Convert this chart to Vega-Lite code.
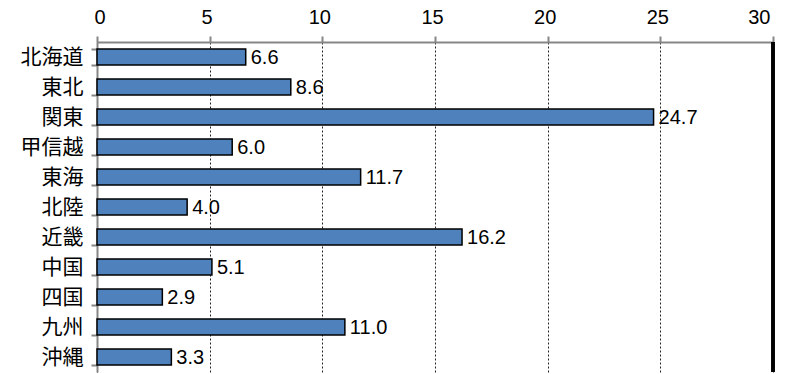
{
  "$schema": "https://vega.github.io/schema/vega-lite/v6.json",
  "autosize": "none",
  "width": 676,
  "height": 330,
  "padding": {"left": 97, "top": 42, "right": 32, "bottom": 2},
  "background": "white",
  "config": {"view": {"stroke": null}},
  "data": {"values": [
    {"region": "北海道", "value": 6.6},
    {"region": "東北", "value": 8.6},
    {"region": "関東", "value": 24.7},
    {"region": "甲信越", "value": 6.0},
    {"region": "東海", "value": 11.7},
    {"region": "北陸", "value": 4.0},
    {"region": "近畿", "value": 16.2},
    {"region": "中国", "value": 5.1},
    {"region": "四国", "value": 2.9},
    {"region": "九州", "value": 11.0},
    {"region": "沖縄", "value": 3.3}
  ]},
  "encoding": {
    "y": {
      "field": "region", "type": "nominal", "sort": null,
      "scale": {"paddingInner": 0.47, "paddingOuter": 0.235},
      "axis": {
        "title": null, "orient": "left",
        "labelFont": "Noto Sans CJK JP", "labelFontSize": 21, "labelColor": "#000",
        "labelPadding": 8, "tickBand": "extent", "tickSize": 6, "tickColor": "#868686", "tickWidth": 2,
        "domainColor": "#868686", "domainWidth": 2
      }
    },
    "x": {
      "field": "value", "type": "quantitative",
      "scale": {"domain": [0, 30], "nice": false},
      "axis": {
        "title": null, "orient": "top", "values": [0, 5, 10, 15, 20, 25, 30],
        "labelFont": "Liberation Sans", "labelFontSize": 20, "labelColor": "#000", "labelPadding": 9, "labelOffset": -3,
        "tickSize": 6, "tickColor": "#868686", "tickWidth": 2,
        "domainColor": "#868686", "domainWidth": 2,
        "grid": true, "gridColor": "#222", "gridDash": [2, 2], "gridWidth": 1
      }
    }
  },
  "layer": [
    {"mark": {"type": "bar", "color": "#4F81BD", "stroke": "#000", "strokeWidth": 1.5}},
    {"mark": {"type": "text", "align": "left", "baseline": "middle", "dx": 5, "dy": 1, "font": "Liberation Sans", "fontSize": 20, "color": "#000"},
     "encoding": {"text": {"field": "value", "type": "quantitative", "format": ".1f"}}},
    {"mark": {"type": "rule", "color": "#000", "strokeWidth": 2.5},
     "encoding": {"x": {"datum": 30}, "y": null}}
  ]
}
